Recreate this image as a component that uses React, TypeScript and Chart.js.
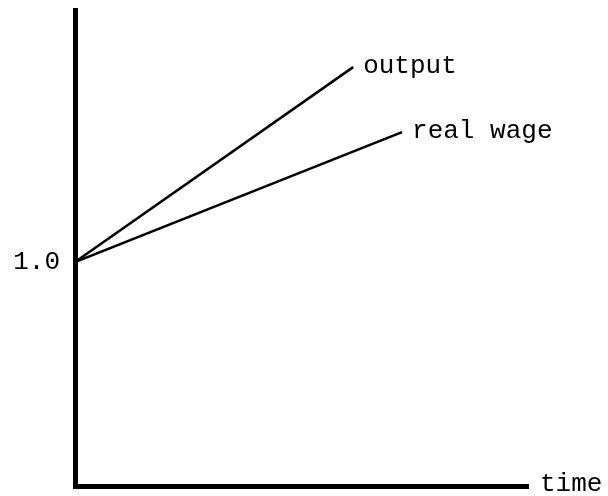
import React, { useEffect, useRef } from "react";
import { Chart, registerables } from "chart.js";

Chart.register(...registerables);

// Data
const seriesLabels = ["output", "real wage"];
const outputTime = [0, 6.14];
const outputValues = [1.0, 1.87];
const wageTime = [0, 7.22];
const wageValues = [1.0, 1.58];
const yTickValues = [1.0];
const yTickLabels = ["1.0"];
const xAxisLabel = "time";

const FONT = "'Liberation Mono', 'Courier New', monospace";

const labelPlugin = {
  id: "endLabels",
  afterDatasetsDraw(chart: any) {
    const ctx = chart.ctx;
    ctx.save();
    ctx.fillStyle = "#000";
    ctx.font = `26px ${FONT}`;
    ctx.textAlign = "left";
    ctx.textBaseline = "middle";
    chart.data.datasets.forEach((ds: any, i: number) => {
      const meta = chart.getDatasetMeta(i);
      const pts = meta.data;
      const last = pts[pts.length - 1];
      if (last) ctx.fillText(ds.label, last.x + 10, last.y - 1);
    });
    const area = chart.chartArea;
    ctx.fillText(xAxisLabel, area.right + 12, area.bottom - 2);
    ctx.restore();
  },
};

export default function App() {
  const ref = useRef<HTMLCanvasElement>(null);
  useEffect(() => {
    if (!ref.current) return;
    const chart = new Chart(ref.current, {
      type: "line",
      data: {
        datasets: [
          {
            label: seriesLabels[0],
            data: outputTime.map((t, i) => ({ x: t, y: outputValues[i] })),
            borderColor: "#000",
            borderWidth: 2.5,
            pointRadius: 0,
            tension: 0,
          },
          {
            label: seriesLabels[1],
            data: wageTime.map((t, i) => ({ x: t, y: wageValues[i] })),
            borderColor: "#000",
            borderWidth: 2.5,
            pointRadius: 0,
            tension: 0,
          },
        ],
      },
      options: {
        animation: false,
        responsive: false,
        maintainAspectRatio: false,
        layout: { padding: { top: 10, right: 80, left: 0, bottom: 0 } },
        plugins: { legend: { display: false }, tooltip: { enabled: false } },
        scales: {
          x: {
            type: "linear",
            min: 0,
            max: 10,
            grid: { display: false, drawTicks: false },
            border: { display: true, color: "#000", width: 5 },
            ticks: { display: false },
            afterFit: (s: any) => {
              s.height = 10;
              s.paddingLeft = 0;
              s.paddingRight = 0;
              s.paddingTop = 0;
              s.paddingBottom = 0;
            },
          },
          y: {
            type: "linear",
            min: 0,
            max: 2.125,
            grid: { display: false, drawTicks: false },
            border: { display: true, color: "#000", width: 5 },
            afterBuildTicks: (s: any) => {
              s.ticks = yTickValues.map((v) => ({ value: v }));
            },
            ticks: {
              color: "#000",
              padding: 15,
              font: { family: FONT, size: 26 },
              callback: (v: any) => {
                const idx = yTickValues.indexOf(Number(v));
                return idx >= 0 ? yTickLabels[idx] : "";
              },
            },
            afterFit: (s: any) => {
              s.width = 75;
              s.paddingLeft = 0;
              s.paddingRight = 0;
              s.paddingTop = 0;
              s.paddingBottom = 0;
            },
          },
        },
      },
      plugins: [labelPlugin],
    });
    return () => chart.destroy();
  }, []);
  return (
    <div style={{ position: "absolute", left: 0, top: 0, width: 608, height: 496, background: "#fff" }}>
      <canvas ref={ref} width={608} height={496} />
    </div>
  );
}
